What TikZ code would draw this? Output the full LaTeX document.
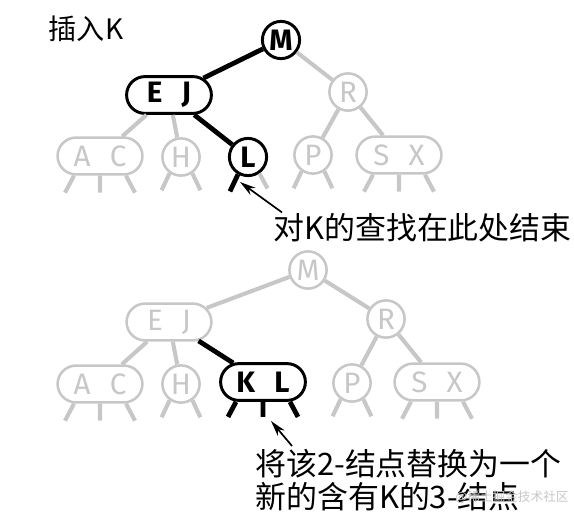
\documentclass[tikz,border=0pt]{standalone}
\usepackage{fontspec}
\setmainfont{Noto Sans CJK SC}
\newfontfamily\keyfont{Fira Sans}
\usetikzlibrary{positioning,arrows.meta,shapes.misc,calc}
\definecolor{colg}{rgb}{0.78,0.78,0.78}

\begin{document}
\begin{tikzpicture}[x=0.025cm, y=-0.025cm,
    knot/.style={circle, draw, line width=2.1pt, minimum size=0.93cm, inner sep=0pt,
      font=\keyfont\bfseries\fontsize{21}{21}\selectfont},
    pair/.style={rounded rectangle, minimum width=2.12cm, minimum height=0.92cm},
    faded/.style={draw=colg, text=colg, line width=1.8pt, font=\keyfont\fontsize{21}{21}\selectfont},
    link/.style={line width=3.4pt},
    dim/.style={colg, line width=2.9pt},
    pointer/.style={line width=1.2pt, -{Stealth[length=4mm,width=2.2mm]}}]
    \useasboundingbox (0,0) rectangle (574,515);
    \node[font=\fontsize{20}{20}\selectfont] (title) at (86,29) {插入K};

    % search path
    \node[knot] (m) at (281,40) {M};
    \node[knot,pair] (ej) at (169,95) {E\hspace{.65em}J};
    \node[knot,faded] (r) at (348,92) {R};
    \node[knot,faded,pair] (ac) at (100,156) {A\hspace{.65em}C};
    \node[knot,faded] (h) at (181,157) {H};
    \node[knot] (l) at (248,157) {L};
    \node[knot,faded] (p) at (313,155) {P};
    \node[knot,faded,pair] (sx) at (399,155) {S\hspace{.65em}X};
    \draw[link] (m) -- (ej);
    \draw[link] (ej) -- (l);
    \draw[dim] (m) -- (r);
    \draw[dim] (ej) -- (ac);
    \draw[dim] (ej) -- (h);
    \draw[dim] (r) -- (p);
    \draw[dim] (r) -- (sx);
    \draw[dim] ($(ac.south)+(-26,0)$) -- ++(-9,17) (ac.south) -- ++(0,17) ($(ac.south)+(26,0)$) -- ++(9,17);
    \draw[dim] (h.-125) -- ++(-8,17) (h.-55) -- ++(8,17);
    \draw[link] (l.-120) -- ++(-8,17);
    \draw[dim] (l.-55) -- ++(8,15);
    \draw[dim] (p.-125) -- ++(-8,17) (p.-55) -- ++(8,17);
    \draw[dim] ($(sx.south)+(-26,0)$) -- ++(-9,17) (sx.south) -- ++(0,17) ($(sx.south)+(26,0)$) -- ++(9,17);
    \node[anchor=west, inner sep=0pt, font=\fontsize{22}{23.4}\selectfont] (note1) at (273,228) {对K的查找在此处结束};
    \coordinate (hit1) at (240,182);
    \draw[pointer] ($(note1.north west)+(9,-1)$) -- (hit1);

    % after insertion
    \node[knot,faded] (m2) at (308,270) {M};
    \node[knot,faded,pair] (ej2) at (169,322) {E\hspace{.65em}J};
    \node[knot,faded] (r2) at (386,319) {R};
    \node[knot,faded,pair] (ac2) at (100,384) {A\hspace{.65em}C};
    \node[knot,faded] (h2) at (181,384) {H};
    \node[knot,pair] (kl) at (263,382) {K\hspace{.65em}L};
    \node[knot,faded] (p2) at (352,383) {P};
    \node[knot,faded,pair] (sx2) at (437,382) {S\hspace{.65em}X};
    \draw[dim] (m2) -- (ej2);
    \draw[dim] (m2) -- (r2);
    \draw[dim] (ej2) -- (ac2);
    \draw[dim] (ej2) -- (h2);
    \draw[link] (ej2) -- (kl);
    \draw[dim] (r2) -- (p2);
    \draw[dim] (r2) -- (sx2);
    \draw[dim] ($(ac2.south)+(-26,0)$) -- ++(-9,17) (ac2.south) -- ++(0,17) ($(ac2.south)+(26,0)$) -- ++(9,17);
    \draw[dim] (h2.-125) -- ++(-8,17) (h2.-55) -- ++(8,17);
    \draw[link] ($(kl.south)+(-27,0)$) -- ++(-8,15) (kl.south) -- ++(0,15) ($(kl.south)+(27,0)$) -- ++(8,15);
    \draw[dim] (p2.-125) -- ++(-8,17) (p2.-55) -- ++(8,17);
    \draw[dim] ($(sx2.south)+(-26,0)$) -- ++(-9,17) (sx2.south) -- ++(0,17) ($(sx2.south)+(26,0)$) -- ++(9,17);
    \node[anchor=west, align=left, inner sep=0pt, font=\fontsize{22}{23.4}\selectfont] (note2) at (255,480) {将该2-结点替换为一个\\新的含有K的3-结点};
    \coordinate (hit2) at (271,421);
    \draw[pointer] ($(note2.north west)+(37,-3)$) -- (hit2);

    \node[text=colg, font=\fontsize{9}{9}\selectfont] (mark) at (512,497) {@稀土掘金技术社区};
\end{tikzpicture}
\end{document}
